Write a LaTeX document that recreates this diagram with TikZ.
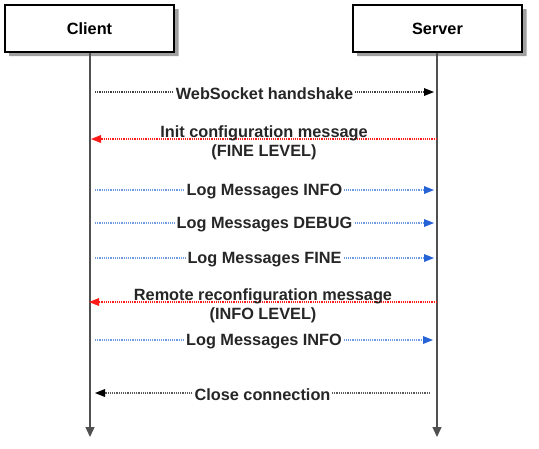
\documentclass[tikz,border=0pt]{standalone}
\usepackage{fontspec}
\setmainfont{Liberation Sans}
\usetikzlibrary{arrows.meta}
\definecolor{msgred}{HTML}{FF1A1A}
\definecolor{msgblue}{HTML}{2563D6}
\definecolor{lifegray}{HTML}{505050}
\definecolor{shadowgray}{HTML}{A0A0A0}
\tikzset{
  actor/.style={draw=black, line width=1.8pt, fill=white, minimum width=169pt, minimum height=47pt,
    font=\bfseries\fontsize{16.3}{19}\selectfont},
  shadowbox/.style={fill=shadowgray, draw=none},
  life/.style={draw=lifegray, line width=1.3pt, -{Triangle[length=10pt,width=9pt]}},
  msg/.style={line width=1.2pt, dash pattern=on 1.2pt off 1pt},
  lbl/.style={fill=white, inner sep=1.5pt, text=black!85, font=\bfseries\fontsize{16.3}{19}\selectfont, align=center},
}
\begin{document}
\begin{tikzpicture}[x=1pt,y=-1pt]
\useasboundingbox (0,0) rectangle (539,448);
\node[actor] (client) at (89.5,28.5) {Client};
\node[actor] (server) at (437.5,28.5) {Server};
% shadows: right and bottom strips
\path[shadowbox] (175,9) -- (178.5,9) -- (178.5,56) -- (9,56) -- (9,53) -- (175,53) -- cycle;
\path[shadowbox] (523,9) -- (526.5,9) -- (526.5,56) -- (357,56) -- (357,53) -- (523,53) -- cycle;
\coordinate (cend) at (90,437);
\coordinate (send) at (437,437);
\draw[life] (client.south -| cend) -- (cend);
\draw[life] (server.south -| send) -- (send);
% message end points
\coordinate (a1) at (95,92);   \coordinate (b1) at (434,92);
\coordinate (a2) at (91,139);  \coordinate (b2) at (437,139);
\coordinate (a3) at (95,190);  \coordinate (b3) at (434,190);
\coordinate (a4) at (95,223);  \coordinate (b4) at (434,223);
\coordinate (a5) at (95,258);  \coordinate (b5) at (434,258);
\coordinate (a6) at (89,302);  \coordinate (b6) at (437,302);
\coordinate (a7) at (95,340);  \coordinate (b7) at (433,340);
\coordinate (a8) at (95,393);  \coordinate (b8) at (430,393);
\draw[msg, draw=black!75, -{Triangle[length=10pt,width=8pt,fill=black,line width=0pt]}] (a1) -- node[lbl, yshift=-1.5pt] (m1) {WebSocket handshake} (b1);
\draw[msg, draw=msgred, -{Triangle[length=10pt,width=8pt,fill=msgred,line width=0pt]}] (b2) -- node[lbl, fill=none, yshift=-4pt] (m2) {Init configuration message\\(FINE LEVEL)} (a2);
\draw[msg, draw=msgblue!65, -{Triangle[length=10pt,width=8pt,fill=msgblue,line width=0pt]}] (a3) -- node[lbl, yshift=-1.5pt] (m3) {Log Messages INFO} (b3);
\draw[msg, draw=msgblue!65, -{Triangle[length=10pt,width=8pt,fill=msgblue,line width=0pt]}] (a4) -- node[lbl, yshift=-1.5pt] (m4) {Log Messages DEBUG} (b4);
\draw[msg, draw=msgblue!65, -{Triangle[length=10pt,width=8pt,fill=msgblue,line width=0pt]}] (a5) -- node[lbl, yshift=-1.5pt] (m5) {Log Messages FINE} (b5);
\draw[msg, draw=msgred, -{Triangle[length=10pt,width=8pt,fill=msgred,line width=0pt]}] (b6) -- node[lbl, fill=none, yshift=-4pt] (m6) {Remote reconfiguration message\\(INFO LEVEL)} (a6);
\draw[msg, draw=msgblue!65, -{Triangle[length=10pt,width=8pt,fill=msgblue,line width=0pt]}] (a7) -- node[lbl, yshift=-1.5pt] (m7) {Log Messages INFO} (b7);
\draw[msg, draw=black!65, -{Triangle[length=10pt,width=8pt,fill=black,line width=0pt]}] (b8) -- node[lbl, yshift=-1.5pt] (m8) {Close connection} (a8);
\end{tikzpicture}
\end{document}
